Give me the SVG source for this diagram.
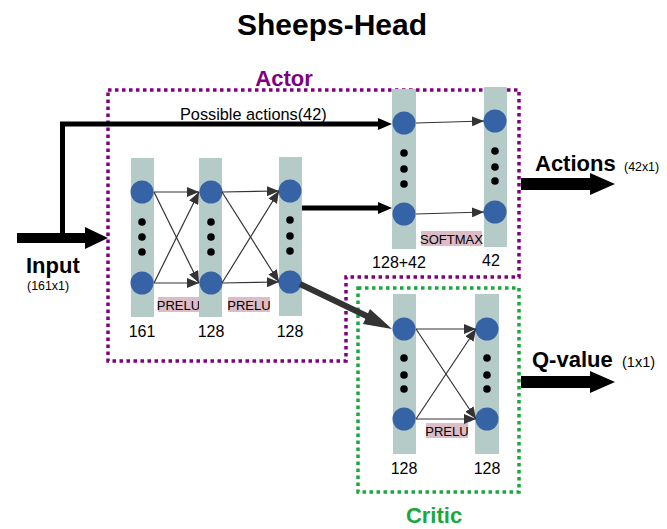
<svg xmlns="http://www.w3.org/2000/svg" width="667" height="529" viewBox="0 0 667 529">
<style>
text{font-family:"Liberation Sans",Arial,sans-serif;fill:#000}
.col{fill:#b5cbc8}
.n{fill:#3563a5}
.d{fill:#000}
.thin{stroke:#333;stroke-width:1.2;fill:none;marker-end:url(#ah)}
.lbl{font-size:16px;text-anchor:middle}
.act{fill:#dcbcc6}
.at{font-size:13px;text-anchor:middle}
.big{font-size:22px;font-weight:bold}
</style>
<defs>
<marker id="ah" viewBox="0 0 12 10" refX="12" refY="5" markerWidth="12" markerHeight="10" markerUnits="userSpaceOnUse" orient="auto">
<path d="M0,0 L12,5 L0,10 Z" fill="#333"/>
</marker>
</defs>
<rect width="667" height="529" fill="#fff"/>
<text x="332" y="35" font-size="30" font-weight="bold" text-anchor="middle">Sheeps-Head</text>

<g id="actor-box">
<path d="M108,90 H519 V277 H346 V361 H108 Z" fill="none" stroke="#800080" stroke-width="3.5" stroke-dasharray="3.5 3.5"/>
<text x="284" y="86" font-size="22" font-weight="bold" text-anchor="middle" style="fill:#800080">Actor</text>
</g>
<g id="critic-box">
<path d="M358,288 H519 V492 H358 Z" fill="none" stroke="#1aa83c" stroke-width="3.5" stroke-dasharray="3.5 3.5"/>
<text x="434" y="523" font-size="22" font-weight="bold" text-anchor="middle" style="fill:#1aa83c">Critic</text>
</g>

<g id="act-labels">
<rect class="act" x="158" y="297" width="41" height="15"/><text class="at" x="178.5" y="309.5">PRELU</text>
<rect class="act" x="228" y="297" width="42" height="15"/><text class="at" x="249" y="309.5">PRELU</text>
<rect class="act" x="421" y="231" width="61" height="15"/><text class="at" x="451.5" y="243.5">SOFTMAX</text>
<rect class="act" x="426" y="423" width="42" height="15"/><text class="at" x="447" y="435.5">PRELU</text>
</g>

<g id="layer-161">
<rect class="col" x="131" y="158" width="23" height="159"/>
<circle class="n" cx="142" cy="192" r="11.5"/><circle class="n" cx="142" cy="283" r="11.5"/>
<circle class="d" cx="142" cy="222" r="3.8"/><circle class="d" cx="142" cy="237" r="3.8"/><circle class="d" cx="142" cy="252" r="3.8"/>
<text class="lbl" x="142" y="337">161</text>
</g>
<g id="layer-128a">
<rect class="col" x="199" y="158" width="23" height="159"/>
<circle class="n" cx="211" cy="192" r="11.5"/><circle class="n" cx="211" cy="283" r="11.5"/>
<circle class="d" cx="211" cy="222" r="3.8"/><circle class="d" cx="211" cy="237" r="3.8"/><circle class="d" cx="211" cy="252" r="3.8"/>
<text class="lbl" x="211" y="337">128</text>
</g>
<g id="layer-128b">
<rect class="col" x="279" y="157" width="23" height="159"/>
<circle class="n" cx="290" cy="191" r="11.5"/><circle class="n" cx="290" cy="282" r="11.5"/>
<circle class="d" cx="290" cy="220" r="3.8"/><circle class="d" cx="290" cy="236" r="3.8"/><circle class="d" cx="290" cy="251" r="3.8"/>
<text class="lbl" x="290" y="337">128</text>
</g>
<g id="layer-170">
<rect class="col" x="392" y="89" width="24" height="160"/>
<circle class="n" cx="404" cy="123" r="11.5"/><circle class="n" cx="404" cy="214" r="11.5"/>
<circle class="d" cx="404" cy="153" r="3.8"/><circle class="d" cx="404" cy="169" r="3.8"/><circle class="d" cx="404" cy="184" r="3.8"/>
<text class="lbl" x="399" y="268">128+42</text>
</g>
<g id="layer-42">
<rect class="col" x="484" y="87" width="23" height="160"/>
<circle class="n" cx="495" cy="121" r="11.5"/><circle class="n" cx="495" cy="212" r="11.5"/>
<circle class="d" cx="495" cy="151" r="3.8"/><circle class="d" cx="495" cy="167" r="3.8"/><circle class="d" cx="495" cy="181" r="3.8"/>
<text class="lbl" x="491" y="266">42</text>
</g>
<g id="critic-128a">
<rect class="col" x="393" y="294" width="23" height="160"/>
<circle class="n" cx="404" cy="329" r="11.5"/><circle class="n" cx="404" cy="419" r="11.5"/>
<circle class="d" cx="404" cy="358" r="3.8"/><circle class="d" cx="404" cy="375" r="3.8"/><circle class="d" cx="404" cy="389" r="3.8"/>
<text class="lbl" x="404" y="474">128</text>
</g>
<g id="critic-128b">
<rect class="col" x="475" y="294" width="24" height="160"/>
<circle class="n" cx="487" cy="329" r="11.5"/><circle class="n" cx="487" cy="419" r="11.5"/>
<circle class="d" cx="487" cy="358" r="3.8"/><circle class="d" cx="487" cy="375" r="3.8"/><circle class="d" cx="487" cy="389" r="3.8"/>
<text class="lbl" x="487" y="474">128</text>
</g>

<g id="connectors">
<line class="thin" x1="154" y1="192" x2="199" y2="192"/>
<line class="thin" x1="154" y1="192" x2="199" y2="283"/>
<line class="thin" x1="154" y1="283" x2="199" y2="192"/>
<line class="thin" x1="154" y1="283" x2="199" y2="283"/>
<line class="thin" x1="222" y1="192" x2="279" y2="191"/>
<line class="thin" x1="222" y1="192" x2="279" y2="282"/>
<line class="thin" x1="222" y1="283" x2="279" y2="191"/>
<line class="thin" x1="222" y1="283" x2="279" y2="282"/>
<line class="thin" x1="416" y1="123" x2="484" y2="121"/>
<line class="thin" x1="416" y1="214" x2="484" y2="212"/>
<line class="thin" x1="416" y1="329" x2="476" y2="329"/>
<line class="thin" x1="416" y1="329" x2="476" y2="419"/>
<line class="thin" x1="416" y1="419" x2="476" y2="329"/>
<line class="thin" x1="416" y1="419" x2="476" y2="419"/>
<path d="M17,233 H85 V227 L108,238 L85,249 V243 H17 Z" fill="#000"/>
<path d="M62.5,238 V124 H380" fill="none" stroke="#000" stroke-width="5"/>
<path d="M378,118 L392,124 L378,130 Z" fill="#000"/>
<path d="M302,208 H380" fill="none" stroke="#000" stroke-width="5"/>
<path d="M378,202 L392,208 L378,214 Z" fill="#000"/>
<path d="M300,284 L375,320" fill="none" stroke="#333" stroke-width="6"/>
<path d="M370,309 L392,329 L363,324 Z" fill="#333"/>
<path d="M521,178 H590 V173 L615,184 L590,195 V190 H521 Z" fill="#000"/>
<path d="M521,376 H590 V371 L615,382 L590,393 V388 H521 Z" fill="#000"/>
<text x="180" y="120" font-size="16.3">Possible actions(42)</text>
</g>

<g id="io-labels">
<text class="big" x="26" y="273">Input</text>
<text x="27" y="290" font-size="12.4">(161x1)</text>
<text class="big" x="535" y="171">Actions</text>
<text x="624" y="171" font-size="12.4">(42x1)</text>
<text class="big" x="532" y="367">Q-value</text>
<text x="622" y="367" font-size="14.5">(1x1)</text>
</g>
</svg>
